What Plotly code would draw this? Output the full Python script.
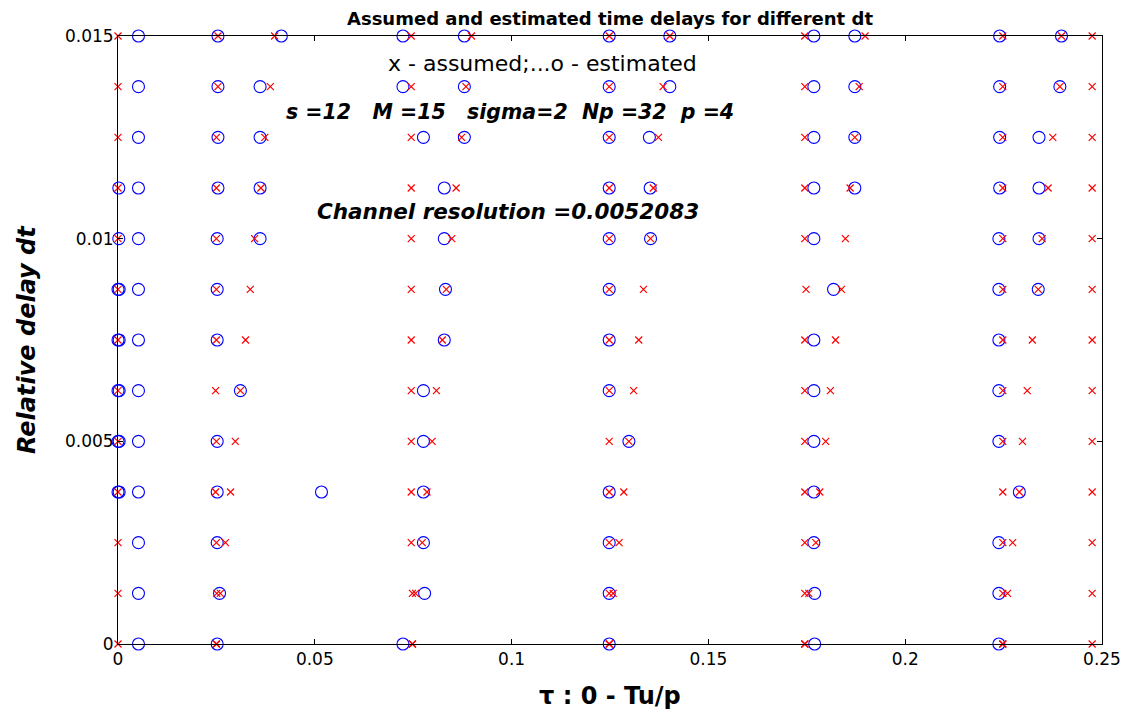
import plotly.graph_objects as go

# Relative delay dt for each row
dt_rows = [0.015, 0.01375, 0.0125, 0.01125, 0.01, 0.00875, 0.0075,
           0.00625, 0.005, 0.00375, 0.0025, 0.00125, 0.0]

# Assumed delays (red x), one list per dt row
assumed_tau = [
    [0, 0.0254, 0.0398, 0.0745, 0.0898, 0.1248, 0.1402, 0.1745, 0.1898, 0.2248, 0.2397, 0.2475],
    [0, 0.0254, 0.0387, 0.0745, 0.0884, 0.1248, 0.1385, 0.1745, 0.1883, 0.2248, 0.2393, 0.2475],
    [0, 0.0250, 0.0373, 0.0745, 0.0873, 0.1248, 0.1373, 0.1745, 0.1872, 0.2248, 0.2375, 0.2475],
    [0, 0.0250, 0.0363, 0.0745, 0.0859, 0.1248, 0.1360, 0.1745, 0.1860, 0.2248, 0.2363, 0.2475],
    [0, 0.0250, 0.0347, 0.0745, 0.0848, 0.1248, 0.1353, 0.1745, 0.1848, 0.2248, 0.2348, 0.2475],
    [0, 0.0250, 0.0336, 0.0745, 0.0834, 0.1248, 0.1335, 0.1748, 0.1838, 0.2248, 0.2338, 0.2475],
    [0, 0.0250, 0.0324, 0.0745, 0.0824, 0.1248, 0.1323, 0.1745, 0.1823, 0.2248, 0.2323, 0.2475],
    [0, 0.0248, 0.0311, 0.0745, 0.0809, 0.1248, 0.1310, 0.1745, 0.1810, 0.2248, 0.2310, 0.2475],
    [0, 0.0250, 0.0298, 0.0745, 0.0798, 0.1248, 0.1298, 0.1745, 0.1798, 0.2248, 0.2298, 0.2475],
    [0, 0.0248, 0.0286, 0.0745, 0.0785, 0.1248, 0.1285, 0.1745, 0.1783, 0.2248, 0.2290, 0.2475],
    [0, 0.0250, 0.0273, 0.0745, 0.0773, 0.1248, 0.1273, 0.1745, 0.1773, 0.2248, 0.2273, 0.2475],
    [0, 0.0251, 0.0260, 0.0748, 0.0756, 0.1248, 0.1258, 0.1745, 0.1755, 0.2248, 0.2260, 0.2475],
    [0, 0.0250, 0.0250, 0.0748, 0.0748, 0.1248, 0.1248, 0.1745, 0.1745, 0.2248, 0.2248, 0.2475],
]

# Estimated delays (blue o), one list per dt row
estimated_tau = [
    [0.0052, 0.0254, 0.0415, 0.0724, 0.0880, 0.1248, 0.1402, 0.1768, 0.1872, 0.2240, 0.2397],
    [0.0052, 0.0254, 0.0361, 0.0724, 0.0880, 0.1248, 0.1402, 0.1768, 0.1872, 0.2240, 0.2393],
    [0.0052, 0.0254, 0.0361, 0.0776, 0.0880, 0.1248, 0.1350, 0.1768, 0.1872, 0.2240, 0.2340],
    [0.0002, 0.0052, 0.0254, 0.0361, 0.0829, 0.1248, 0.1352, 0.1768, 0.1872, 0.2240, 0.2340],
    [0.0002, 0.0052, 0.0252, 0.0361, 0.0829, 0.1248, 0.1353, 0.1768, 0.2238, 0.2340],
    [0.0000, 0.0003, 0.0052, 0.0252, 0.0832, 0.1248, 0.1818, 0.2238, 0.2338],
    [0.0000, 0.0003, 0.0052, 0.0252, 0.0829, 0.1248, 0.1768, 0.2238],
    [0.0000, 0.0003, 0.0052, 0.0311, 0.0776, 0.1248, 0.1768, 0.2238],
    [0.0000, 0.0003, 0.0052, 0.0252, 0.0776, 0.1298, 0.1768, 0.2238],
    [0.0000, 0.0003, 0.0052, 0.0252, 0.0517, 0.0776, 0.1248, 0.1768, 0.2290],
    [0.0052, 0.0252, 0.0776, 0.1248, 0.1768, 0.2238],
    [0.0052, 0.0258, 0.0779, 0.1248, 0.1770, 0.2238],
    [0.0052, 0.0252, 0.0724, 0.1248, 0.1770, 0.2238],
]

x_ticks = [0, 0.05, 0.1, 0.15, 0.2, 0.25]
x_tick_labels = ["0", "0.05", "0.1", "0.15", "0.2", "0.25"]
y_ticks = [0, 0.005, 0.01, 0.015]
y_tick_labels = ["0", "0.005", "0.01", "0.015"]

title_text = "Assumed and estimated time delays for different dt"
legend_text = "x - assumed;...o - estimated"
params_text = "s =12   M =15   sigma=2  Np =32  p =4"
resolution_text = "Channel resolution =0.0052083"
x_title = "τ : 0 - Tu/p"
y_title = "Relative delay dt"

ax_est, ay_est = [], []
for d, row in zip(dt_rows, estimated_tau):
    ax_est += row
    ay_est += [d] * len(row)
ax_as, ay_as = [], []
for d, row in zip(dt_rows, assumed_tau):
    ax_as += row
    ay_as += [d] * len(row)

fig = go.Figure()
fig.add_trace(go.Scatter(
    x=ax_est, y=ay_est, mode="markers", cliponaxis=False,
    marker=dict(symbol="circle-open", size=12, color="#0000ff",
                line=dict(width=1.1, color="#0000ff")),
    showlegend=False))
fig.add_trace(go.Scatter(
    x=ax_as, y=ay_as, mode="markers", cliponaxis=False,
    marker=dict(symbol="x-thin-open", size=7, color="#ff0000",
                line=dict(width=1.2, color="#ff0000")),
    showlegend=False))

fnt = "DejaVu Sans, Arial, sans-serif"
fig.update_layout(
    width=1133, height=715, autosize=False,
    margin=dict(l=118, r=29, t=36, b=71),
    paper_bgcolor="white", plot_bgcolor="white",
    font=dict(family=fnt, color="black"),
    xaxis=dict(range=[0, 0.25], tickvals=x_ticks, ticktext=x_tick_labels,
               ticks="inside", ticklen=5, tickcolor="black",
               showline=True, linecolor="black", linewidth=1, mirror="ticks",
               showgrid=False, zeroline=False,
               tickfont=dict(family=fnt, size=17, color="black")),
    yaxis=dict(range=[0, 0.015], tickvals=y_ticks, ticktext=y_tick_labels,
               ticks="inside", ticklen=5, tickcolor="black",
               showline=True, linecolor="black", linewidth=1, mirror="ticks",
               showgrid=False, zeroline=False,
               tickfont=dict(family=fnt, size=17, color="black")),
    annotations=[
        dict(text="<b>" + title_text + "</b>", xref="paper", yref="paper",
             x=0.5, y=1, yshift=18, xanchor="center", yanchor="middle",
             showarrow=False, font=dict(family=fnt, size=18, color="black")),
        dict(text=legend_text, xref="x", yref="y", x=0.068, y=0.01433,
             xanchor="left", yanchor="middle", showarrow=False,
             font=dict(family=fnt, size=22, color="black")),
        dict(text="<b><i>" + params_text + "</i></b>", xref="x", yref="y",
             x=0.0423, y=0.01312, xanchor="left", yanchor="middle",
             showarrow=False, font=dict(family=fnt, size=20.5, color="black")),
        dict(text="<b><i>" + resolution_text + "</i></b>", xref="x", yref="y",
             x=0.0500, y=0.01068, xanchor="left", yanchor="middle",
             showarrow=False, font=dict(family=fnt, size=21.5, color="black")),
        dict(text="<b>" + x_title + "</b>", xref="paper", yref="paper",
             x=0.5, y=0, yshift=-52, xanchor="center", yanchor="middle",
             showarrow=False, font=dict(family=fnt, size=24, color="black")),
        dict(text="<b><i>" + y_title + "</i></b>", xref="paper", yref="paper",
             x=0, xshift=-91, y=0.5, yanchor="middle", xanchor="center",
             textangle=-90, showarrow=False,
             font=dict(family=fnt, size=24, color="black")),
    ],
)

fig.write_html("out.html")
